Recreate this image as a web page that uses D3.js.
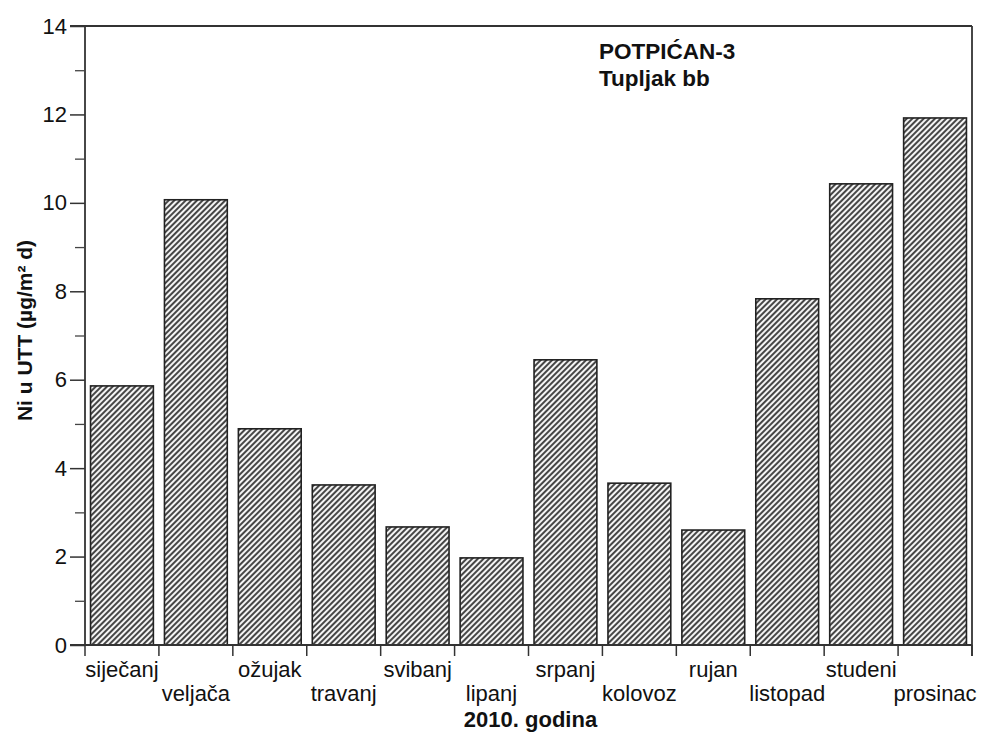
<!DOCTYPE html>
<html><head><meta charset="utf-8">
<script src="https://cdn.jsdelivr.net/npm/d3@7"></script>
<style>body{margin:0;background:#fff}svg{display:block}text{font-family:"Liberation Sans",Arial,sans-serif;fill:#111}</style>
</head><body>
<svg id="c" width="983" height="733"></svg>
<script>
const months = ["siječanj","veljača","ožujak","travanj","svibanj","lipanj","srpanj","kolovoz","rujan","listopad","studeni","prosinac"];
const values = [5.86,10.07,4.89,3.62,2.67,1.97,6.45,3.66,2.60,7.83,10.43,11.92];
const yTicks = [0,2,4,6,8,10,12,14];
const minorTicks = [1,3,5,7,9,11,13];
const titleLines = ["POTPIĆAN-3","Tupljak bb"];
const xTitle = "2010. godina";
const yTitle = "Ni u UTT (µg/m² d)";

const svg = d3.select("#c");
const L=85, R=972, T=26, B=645;
const x = d3.scaleBand().domain(months).range([L,R]).paddingInner(0.15).paddingOuter(0.075);
const xb = d3.scaleBand().domain(months).range([L,R]);
const y = d3.scaleLinear().domain([0,14]).range([B,T]);

const defs = svg.append("defs");
const pat = defs.append("pattern").attr("id","hatch").attr("patternUnits","userSpaceOnUse")
  .attr("width",4).attr("height",4).attr("patternTransform","rotate(45)");
pat.append("rect").attr("width",4).attr("height",4).attr("fill","#f4f4f4");
pat.append("line").attr("x1",1).attr("y1",0).attr("x2",1).attr("y2",4).attr("stroke","#333").attr("stroke-width",1.8);

svg.append("g").selectAll("rect").data(values).join("rect")
  .attr("x",(d,i)=>x(months[i])).attr("width",x.bandwidth())
  .attr("y",d=>y(d)).attr("height",d=>B-y(d))
  .attr("fill","url(#hatch)").attr("stroke","#222").attr("stroke-width",1.6);

// frame
const g = svg.append("g").attr("stroke","#333").attr("stroke-width",1.8).attr("fill","none");
g.append("line").attr("x1",L-15).attr("x2",R).attr("y1",T).attr("y2",T);
g.append("line").attr("x1",R).attr("x2",R).attr("y1",T).attr("y2",B+11);
g.append("line").attr("x1",L).attr("x2",L).attr("y1",T).attr("y2",B);
g.append("line").attr("x1",L-15).attr("x2",R).attr("y1",B).attr("y2",B);

// y axis
const ya = svg.append("g").attr("transform",`translate(${L},0)`)
  .call(d3.axisLeft(y).tickValues(yTicks).tickSize(15).tickPadding(3).tickFormat(d3.format("d")));
ya.select(".domain").remove();
ya.selectAll("line").attr("stroke","#333").attr("stroke-width",1.5);
ya.selectAll("text").attr("font-size",22);
const ym = svg.append("g").attr("transform",`translate(${L},0)`)
  .call(d3.axisLeft(y).tickValues(minorTicks).tickSize(10).tickFormat(""));
ym.select(".domain").remove();
ym.selectAll("line").attr("stroke","#444").attr("stroke-width",1.3);

// x ticks at band boundaries
const bounds = months.map(m=>xb(m)).concat([R]);
svg.append("g").selectAll("line").data(bounds).join("line")
  .attr("x1",d=>d).attr("x2",d=>d).attr("y1",B).attr("y2",B+11)
  .attr("stroke","#333").attr("stroke-width",1.5);

// x labels alternating rows
svg.append("g").selectAll("text").data(months).join("text")
  .attr("x",d=>xb(d)+xb.bandwidth()/2).attr("y",(d,i)=>i%2===0?677:701)
  .attr("text-anchor","middle").attr("font-size",22).text(d=>d);

svg.append("text").attr("x",(L+R)/2+2).attr("y",727).attr("text-anchor","middle")
  .attr("font-size",22).attr("font-weight","bold").text(xTitle);

svg.append("text").attr("transform",`translate(32,${(T+B)/2-5}) rotate(-90)`)
  .attr("text-anchor","middle").attr("font-size",21).attr("font-weight","bold").text(yTitle);

svg.append("g").selectAll("text").data(titleLines).join("text")
  .attr("x",599).attr("y",(d,i)=>59+i*27).attr("font-size",22.5).attr("font-weight","bold").text(d=>d);
</script>
</body></html>
